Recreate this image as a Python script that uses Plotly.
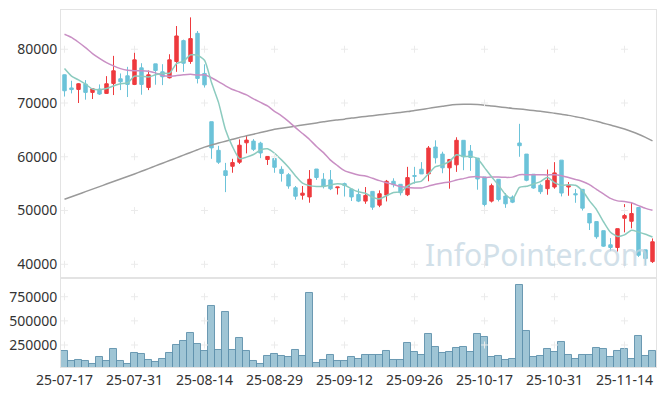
import plotly.graph_objects as go
from plotly.subplots import make_subplots
import pandas as pd

dates = [
    "25-07-17", "25-07-18", "25-07-21", "25-07-22", "25-07-23", "25-07-24", "25-07-25", "25-07-28", "25-07-29", "25-07-30", "25-07-31",
    "25-08-01", "25-08-04", "25-08-05", "25-08-06", "25-08-07", "25-08-08", "25-08-11", "25-08-12", "25-08-13", "25-08-14",
    "25-08-18", "25-08-19", "25-08-20", "25-08-21", "25-08-22", "25-08-25", "25-08-26", "25-08-27", "25-08-28", "25-08-29",
    "25-09-01", "25-09-02", "25-09-03", "25-09-04", "25-09-05", "25-09-08", "25-09-09", "25-09-10", "25-09-11", "25-09-12",
    "25-09-15", "25-09-16", "25-09-17", "25-09-18", "25-09-19", "25-09-22", "25-09-23", "25-09-24", "25-09-25", "25-09-26",
    "25-09-29", "25-09-30", "25-10-01", "25-10-02", "25-10-10", "25-10-13", "25-10-14", "25-10-15", "25-10-16", "25-10-17",
    "25-10-20", "25-10-21", "25-10-22", "25-10-23", "25-10-24", "25-10-27", "25-10-28", "25-10-29", "25-10-30", "25-10-31",
    "25-11-03", "25-11-04", "25-11-05", "25-11-06", "25-11-07", "25-11-10", "25-11-11", "25-11-12", "25-11-13", "25-11-14",
    "25-11-17", "25-11-18", "25-11-19", "25-11-20",
]

opens = [75250, 72800, 72530, 73520, 71975, 72590, 71790, 73640, 74500, 75060,
         73460, 76540, 72900, 77280, 75800, 74690, 77720, 81600, 77720, 82960,
         75500, 66520, 61200, 57400, 58230, 58990, 62600, 62910, 62530, 59490,
         59680, 57660, 56650, 54240, 52850, 52530, 57720, 55820, 55700, 54240,
         55000, 53990, 53000, 51750, 53560, 51000, 52875, 55440, 54875, 52940,
         56500, 57690, 56810, 61810, 60500, 57940, 58500, 63060, 61060, 59750,
         56250, 51750, 55810, 52690, 52500, 62560, 60500, 56750, 54690, 54060,
         54375, 59375, 54375, 53125, 53940, 49440, 47940, 46250, 43625, 43125,
         48560, 48000, 50560, 42690, 40500]
highs = [75300, 74140, 73700, 74260, 72650, 73460, 75000, 78770, 75500, 76730,
         79440, 77400, 76050, 77280, 77220, 79070, 84320, 81790, 85930, 83400,
         77190, 66520, 62030, 58860, 59620, 63230, 63990, 63290, 62790, 60060,
         60130, 58230, 56960, 54560, 54560, 57530, 57720, 56960, 57530, 54370,
         55190, 53990, 54060, 54370, 53560, 53750, 55690, 56000, 54875, 58125,
         58125, 59000, 62000, 63060, 60940, 59500, 63625, 63060, 62190, 59750,
         56250, 55000, 55810, 53250, 52810, 66125, 60500, 56750, 55000, 57625,
         59000, 59375, 55310, 54000, 53940, 49440, 47940, 46250, 44875, 46625,
         51190, 51440, 50560, 42690, 44810]
lows = [71200, 71790, 70000, 70620, 70740, 71500, 71700, 71480, 72400, 71110,
        73330, 71540, 72400, 73400, 73330, 74570, 75800, 75800, 77280, 73640,
        72875, 59620, 58670, 53420, 57025, 58670, 60630, 61080, 59750, 58480,
        57020, 55380, 54050, 52020, 52020, 51450, 55700, 54110, 53800, 52970,
        52600, 51770, 51560, 51250, 50130, 50630, 51690, 54310, 52810, 52690,
        55000, 56810, 55440, 58750, 56940, 54060, 57190, 57500, 57375, 53875,
        50750, 51500, 51690, 50500, 51375, 60000, 55440, 54060, 53060, 52940,
        54060, 52625, 52750, 51440, 50000, 46375, 44750, 43250, 42500, 42375,
        45940, 46690, 41375, 39875, 40250]
closes = [72280, 72500, 73580, 71975, 72650, 71670, 73580, 75990, 73950, 73460,
          78030, 73460, 75250, 76050, 74880, 78030, 82470, 77400, 81980, 74570,
          73375, 61650, 58990, 56520, 58920, 62150, 63100, 61390, 60700, 60060,
          58040, 56900, 54560, 52660, 53230, 55820, 56140, 54560, 54050, 54370,
          54680, 52530, 51750, 52810, 50630, 53125, 55440, 54810, 53310, 56125,
          56375, 56810, 61625, 59810, 57940, 59500, 63060, 60000, 59875, 55875,
          51125, 54625, 52060, 51250, 51560, 62060, 55625, 54190, 53500, 55625,
          57000, 53250, 54690, 52940, 50440, 47690, 45125, 43375, 43125, 46625,
          49060, 49440, 41690, 41060, 44190]
volumes = [183100, 81000, 91600, 81000, 56400, 123200, 81000, 207700, 81000, 56400,
           165500, 155000, 91600, 70400, 102100, 165500, 250000, 292300, 376800, 260600,
           186600, 651400, 197200, 588000, 197200, 323900, 186600, 81000, 56400, 133800,
           155000, 133800, 123200, 193700, 133800, 788700, 66900, 91600, 144400, 88000,
           88000, 123200, 109000, 144400, 144400, 151400, 186600, 91600, 98600, 267600,
           172500, 144400, 362700, 228900, 162000, 172500, 214800, 225400, 172500, 362700,
           334500, 123200, 133800, 91600, 109000, 869700, 390800, 123200, 133800, 204200,
           172500, 278200, 144400, 109000, 151400, 144400, 214800, 204200, 123200, 183100,
           204200, 109000, 341500, 133800, 183100]

# moving averages: early values (they need prior history)
ma5_head = [76400, 75000, 74300, 73500]
ma20_head = [82800, 82200, 81300, 80300, 79200, 78300, 77500, 76900, 76400, 76100,
             76000, 76000, 75900, 75600, 75100, 75000, 75100, 75250, 75350]
ma120 = [52100, 52570, 53040, 53510, 53980, 54450, 54920, 55390, 55860, 56330,
         56800, 57300, 57800, 58300, 58800, 59300, 59800, 60300, 60800, 61300,
         61800, 62200, 62550, 62900, 63250, 63600, 63900, 64200, 64500, 64800,
         65100, 65300, 65500, 65700, 65900, 66100, 66300, 66500, 66700, 66850,
         67000, 67200, 67350, 67500, 67650, 67800, 67950, 68100, 68250, 68400,
         68600, 68800, 69000, 69200, 69400, 69600, 69700, 69750, 69750, 69700,
         69600, 69450, 69300, 69150, 69000, 68900, 68750, 68600, 68450, 68300,
         68100, 67900, 67700, 67450, 67200, 66900, 66600, 66250, 65900, 65550,
         65150, 64700, 64200, 63600, 62950]

price_ticks = [40000, 50000, 60000, 70000, 80000]
volume_ticks = [250000, 500000, 750000]
x_tick_step = 10

close_s = pd.Series(closes, dtype=float)
ma5 = close_s.rolling(5).mean().tolist()
ma5[:len(ma5_head)] = ma5_head
ma20 = close_s.rolling(20).mean().tolist()
ma20[:len(ma20_head)] = ma20_head

RED = "#ee3a3e"
BLUE = "#6cc3d9"
FONT = "Noto Sans"

fig = make_subplots(rows=2, cols=1, shared_xaxes=True, vertical_spacing=0,
                    row_heights=[0.7507, 0.2493])

x_tickvals = dates[::x_tick_step]

fig.add_trace(go.Candlestick(
    x=dates, open=opens, high=highs, low=lows, close=closes,
    increasing=dict(line=dict(color=RED, width=1), fillcolor=RED),
    decreasing=dict(line=dict(color=BLUE, width=1), fillcolor=BLUE),
    whiskerwidth=0, showlegend=False), row=1, col=1)

fig.add_trace(go.Scatter(x=dates, y=ma120, mode="lines",
                         line=dict(color="#9a9a9a", width=1.5, shape="spline", smoothing=0.6),
                         showlegend=False, hoverinfo="skip"), row=1, col=1)
fig.add_trace(go.Scatter(x=dates, y=ma20, mode="lines",
                         line=dict(color="#c98fc4", width=1.5, shape="spline", smoothing=0.6),
                         showlegend=False, hoverinfo="skip"), row=1, col=1)
fig.add_trace(go.Scatter(x=dates, y=ma5, mode="lines",
                         line=dict(color="#8ccbbf", width=1.5, shape="spline", smoothing=0.6),
                         showlegend=False, hoverinfo="skip"), row=1, col=1)

fig.add_trace(go.Bar(x=dates, y=volumes,
                     marker=dict(color="rgba(135,182,203,0.8)",
                                 line=dict(color="rgba(95,145,172,0.9)", width=1)),
                     showlegend=False), row=2, col=1)

# grid crosses at tick intersections
for ticks, row in ((price_ticks, 1), (volume_ticks, 2)):
    xs, ys = [], []
    for xv in x_tickvals:
        for yv in ticks:
            xs.append(xv)
            ys.append(yv)
    fig.add_trace(go.Scatter(x=xs, y=ys, mode="markers", hoverinfo="skip",
                             marker=dict(symbol="cross-thin", size=5,
                                         line=dict(color="#ebebeb", width=1)),
                             showlegend=False), row=row, col=1)

axis_line = "#e3e3e3"
tickfont = dict(family=FONT, size=14, color="#333333")

fig.update_xaxes(type="category", categoryorder="array", categoryarray=dates,
                 range=[-0.5, len(dates) - 0.5], automargin=False,
                 showgrid=False, zeroline=False, showline=True, linecolor=axis_line,
                 mirror=True, ticks="", tickfont=tickfont, tickangle=0,
                 tickmode="array", tickvals=x_tickvals, ticktext=x_tickvals,
                 rangeslider=dict(visible=False))
fig.update_xaxes(showticklabels=False, row=1, col=1)
fig.update_xaxes(showticklabels=True, row=2, col=1)

fig.update_yaxes(range=[37450, 87300], tickvals=price_ticks, tickformat="d",
                 automargin=False,
                 showgrid=False, zeroline=False, showline=True, linecolor=axis_line,
                 mirror=True, ticks="", tickfont=tickfont, row=1, col=1)
fig.update_yaxes(range=[22000, 944000], tickvals=volume_ticks, tickformat="d",
                 automargin=False,
                 showgrid=False, zeroline=False, showline=True, linecolor=axis_line,
                 mirror=True, ticks="", tickfont=tickfont, row=2, col=1)

fig.add_annotation(text="InfoPointer.com", xref="paper", yref="paper",
                   x=0.9916, y=0.3165, xanchor="right", yanchor="middle",
                   showarrow=False, opacity=0.75,
                   font=dict(family=FONT, size=30, color="#c3d6e2"))

# the page body has an 8px default margin; size the figure so the plot lands in place
fig.update_layout(width=657, height=388,
                  margin=dict(l=53, r=9, t=2, b=29),
                  paper_bgcolor="white", plot_bgcolor="white",
                  bargap=0, showlegend=False, hovermode="x")

fig.write_html("out.html")
